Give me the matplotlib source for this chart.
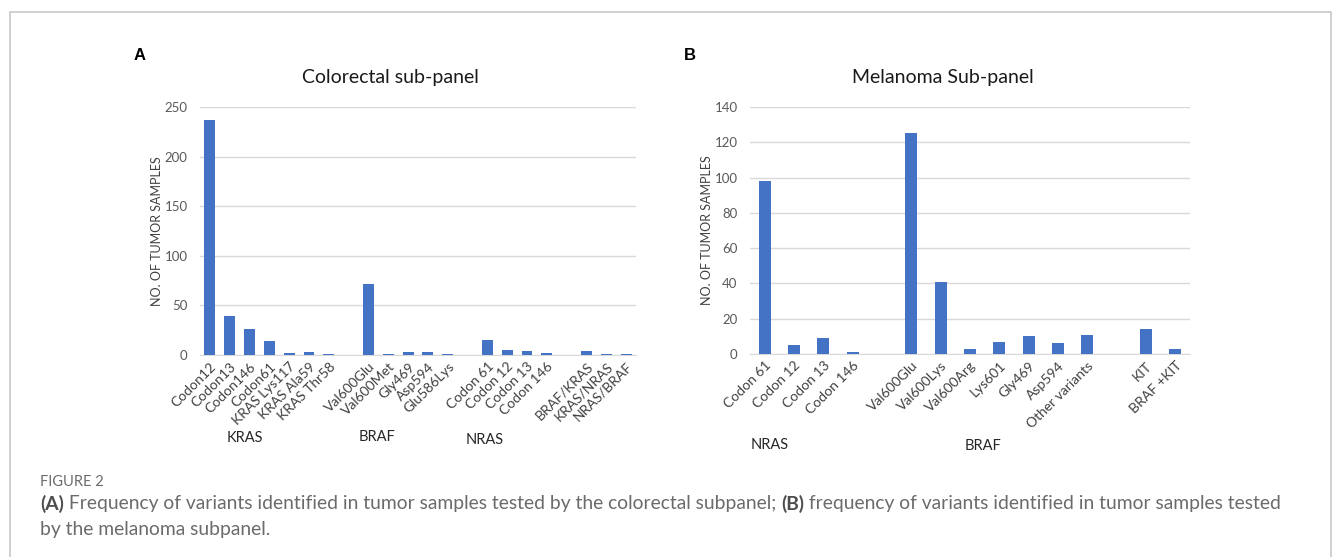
import numpy as np
import matplotlib.pyplot as plt
from matplotlib.patches import Rectangle

# colorectal sub-panel (empty strings are the spacer slots between gene groups)
crc_labels = ["Codon12", "Codon13", "Codon146", "Codon61", "KRAS Lys117", "KRAS Ala59", "KRAS Thr58", "",
              "Val600Glu", "Val600Met", "Gly469", "Asp594", "Glu586Lys", "",
              "Codon 61", "Codon 12", "Codon 13", "Codon 146", "",
              "BRAF/KRAS", "KRAS/NRAS", "NRAS/BRAF"]
crc_values = [237, 39, 26, 14, 2, 3, 1, 0,
              72, 1, 3, 3, 1, 0,
              15, 5, 4, 2, 0,
              4, 1, 1]
crc_ticks = [0, 50, 100, 150, 200, 250]

# melanoma sub-panel
mel_labels = ["Codon 61", "Codon 12", "Codon 13", "Codon 146", "",
              "Val600Glu", "Val600Lys", "Val600Arg", "Lys601", "Gly469", "Asp594", "Other variants", "",
              "KIT", "BRAF +KIT"]
mel_values = [98, 5, 9, 1, 0,
              125, 41, 3, 7, 10, 6, 11, 0,
              14, 3]
mel_ticks = [0, 20, 40, 60, 80, 100, 120, 140]

BLUE = "#4472C4"
GRID = "#D9D9D9"
TXT = "#595959"
FONT = "Lato"

W, H = 1333, 557
fig = plt.figure(figsize=(W / 100, H / 100), dpi=100)
plt.rcParams['font.family'] = [FONT, 'DejaVu Sans']


def px(x, y):
    return x / W, 1 - y / H


def panel(rect, labels, values, ticks, width, title, title_x):
    ax = fig.add_axes(rect)
    x = np.arange(len(labels))
    vals = np.array(values, dtype=float)
    vals[vals == 0] = np.nan
    ax.bar(x, vals, width=width, color=BLUE, zorder=3)
    ax.set_xlim(-0.5, len(labels) - 0.5)
    ax.set_ylim(0, ticks[-1])
    ax.set_yticks(ticks)
    ax.set_xticks(x)
    ax.set_xticklabels(labels, rotation=45, ha="right", rotation_mode="anchor",
                       fontsize=10, color="#404040")
    ax.tick_params(axis="y", labelsize=9.5, labelcolor=TXT, length=0, pad=9)
    ax.tick_params(axis="x", length=0, pad=4)
    ax.grid(axis="y", color=GRID, lw=1, zorder=0)
    for s in ["top", "right", "left"]:
        ax.spines[s].set_visible(False)
    ax.spines["bottom"].set_color(GRID)
    ax.set_ylabel("NO. OF TUMOR SAMPLES", fontsize=9, color="#404040", labelpad=1)
    fig.text(*px(title_x, 77), title, fontsize=14, ha="center", va="center", color="#1a1a1a")
    return ax


axA = panel([200 / W, 1 - 355 / H, 436 / W, 248 / H], crc_labels, crc_values, crc_ticks,
            0.55, "Colorectal sub-panel", 390)
axB = panel([750 / W, 1 - 354 / H, 440 / W, 247 / H], mel_labels, mel_values, mel_ticks,
            0.4, "Melanoma Sub-panel", 943)

# panel letters
fig.text(*px(140, 55), "A", fontsize=12, fontweight="bold", family="Liberation Sans",
         ha="center", va="center")
fig.text(*px(690, 55), "B", fontsize=12, fontweight="bold", family="Liberation Sans",
         ha="center", va="center")

# gene group labels
for gx, gy, g in [(245, 438, "KRAS"), (377, 437, "BRAF"), (485, 440, "NRAS"),
                  (770, 445, "NRAS"), (983, 446, "BRAF")]:
    fig.text(*px(gx, gy), g, fontsize=10.5, ha="center", va="center", color="#262626")

# outer frame
fig.patches.append(Rectangle((10 / W, -0.05), (1331 - 10) / W, 1 - 12 / H + 0.05,
                             transform=fig.transFigure, fill=False, ec="#C8C8C8", lw=1.2))

# caption
CAP = "#6b6b6b"
fig.text(*px(40, 482), "FIGURE 2", fontsize=10.5, color=CAP, va="center")

fig.canvas.draw()
r = fig.canvas.get_renderer()


def runs(x0, y0, parts, size=13.9):
    x = x0
    for s, bold in parts:
        t = fig.text(*px(x, y0), s, fontsize=size, color="#4d4d4d" if bold else CAP,
                     fontweight="bold" if bold else "normal", va="center")
        x += t.get_window_extent(r).width


runs(40, 504, [("(A)", True),
               (" Frequency of variants identified in tumor samples tested by the colorectal subpanel; ", False),
               ("(B)", True),
               (" frequency of variants identified in tumor samples tested", False)])
runs(40, 530, [("by the melanoma subpanel.", False)])

fig.savefig("out.png", dpi=100)
